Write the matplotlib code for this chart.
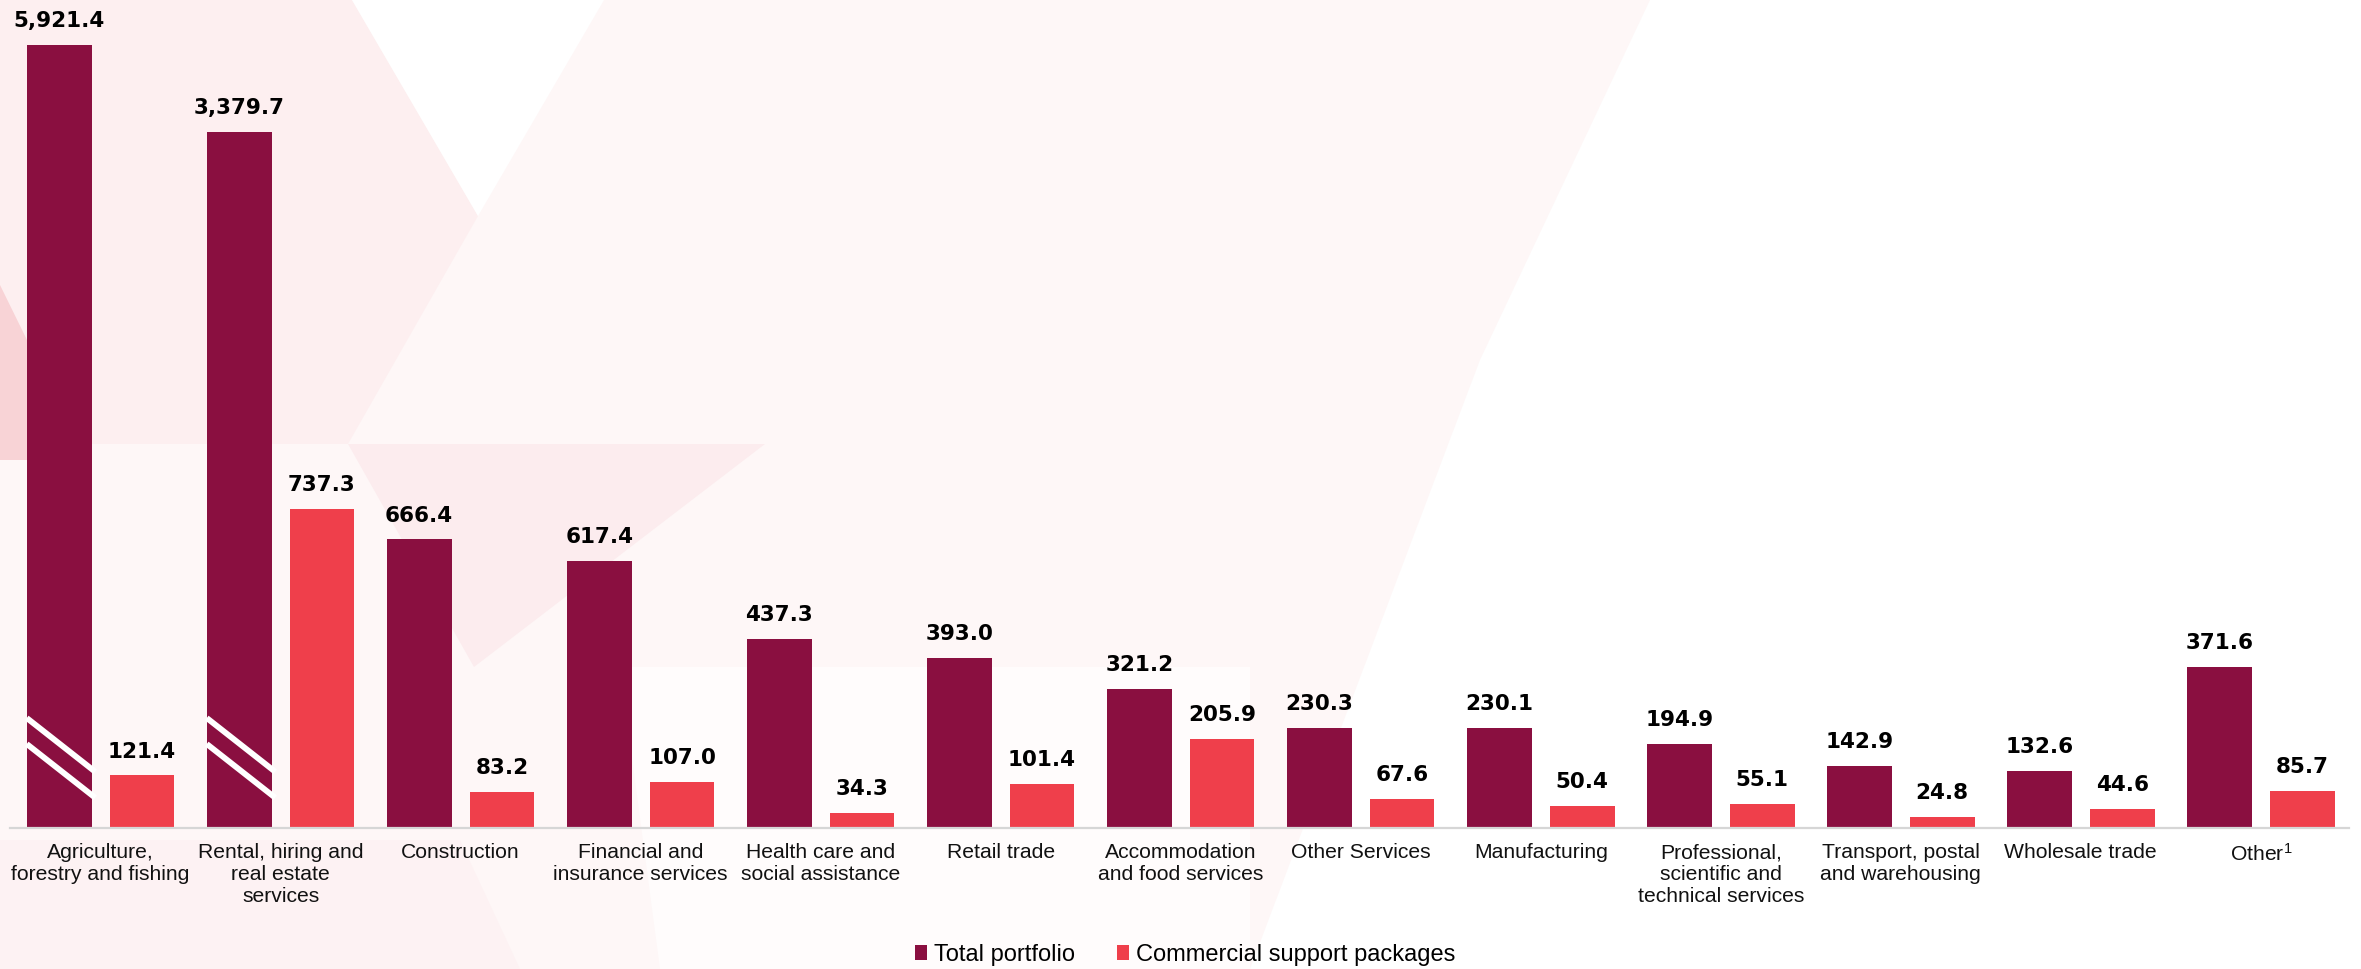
import matplotlib
matplotlib.use("Agg")
import matplotlib.pyplot as plt
from matplotlib.patches import Polygon
import numpy as np

# data (A$ millions)
categories = [
    "Agriculture,\nforestry and fishing",
    "Rental, hiring and\nreal estate\nservices",
    "Construction",
    "Financial and\ninsurance services",
    "Health care and\nsocial assistance",
    "Retail trade",
    "Accommodation\nand food services",
    "Other Services",
    "Manufacturing",
    "Professional,\nscientific and\ntechnical services",
    "Transport, postal\nand warehousing",
    "Wholesale trade",
    "Other$^{1}$",
]
total_portfolio = [5921.4, 3379.7, 666.4, 617.4, 437.3, 393.0, 321.2,
                   230.3, 230.1, 194.9, 142.9, 132.6, 371.6]
commercial_support = [121.4, 737.3, 83.2, 107.0, 34.3, 101.4, 205.9,
                      67.6, 50.4, 55.1, 24.8, 44.6, 85.7]
series_names = ["Total portfolio", "Commercial support packages"]

# the two largest bars are drawn on a broken (truncated) scale
broken_idx = [0, 1]
broken_shown = [1808, 1607]

DARK = "#8a0f40"
RED = "#ef3f4b"

plt.rcParams["font.family"] = ["Liberation Sans", "DejaVu Sans"]
plt.rcParams["mathtext.fontset"] = "custom"
plt.rcParams["mathtext.rm"] = "Liberation Sans"
plt.rcParams["mathtext.it"] = "Liberation Sans"
plt.rcParams["mathtext.bf"] = "Liberation Sans:bold"

W, H = 2361, 969
fig = plt.figure(figsize=(W / 100, H / 100), dpi=100)
fig.patch.set_facecolor("white")

# faint geometric background (pixel coords, y down)
bg = fig.add_axes([0, 0, 1, 1], zorder=-5)
bg.set_xlim(0, W)
bg.set_ylim(H, 0)
bg.axis("off")
shapes = [
    ([(0, 0), (1650, 0), (1480, 360), (1250, 969), (0, 969)], "#fef7f7"),
    ([(0, 0), (352, 0), (478, 216), (348, 444), (0, 444)], "#fdeff0"),
    ([(352, 0), (604, 0), (478, 216)], "#ffffff"),
    ([(348, 444), (765, 444), (474, 667)], "#fcecee"),
    ([(620, 667), (1250, 667), (1250, 969), (660, 969)], "#fffcfc"),
    ([(0, 285), (27, 340), (27, 460), (0, 460)], "#f8d3d6"),
    ([(0, 840), (460, 840), (520, 969), (0, 969)], "#fdf2f3"),
]
for pts, c in shapes:
    bg.add_patch(Polygon(pts, closed=True, facecolor=c, edgecolor="none"))

ax = fig.add_axes([10 / W, 1 - 828 / H, (2349 - 10) / W, 828 / H])
ax.patch.set_alpha(0)

x = np.arange(len(categories))
off = 0.23
bw = 0.36

dark_heights = list(total_portfolio)
for i, h in zip(broken_idx, broken_shown):
    dark_heights[i] = h

ax.bar(x - off, dark_heights, bw, color=DARK, label=series_names[0], zorder=2)
ax.bar(x + off, commercial_support, bw, color=RED, label=series_names[1], zorder=2)

# break marks on the truncated bars
for i in broken_idx:
    x0 = i - off - bw / 2
    x1 = i - off + bw / 2 + 0.02
    for ys, ye in [(254, 130), (194, 70)]:
        ax.plot([x0, x1], [ys, ye], color="white", lw=4.2,
                solid_capstyle="butt", zorder=3)

# value labels
for xi, h, v in zip(x - off, dark_heights, total_portfolio):
    ax.annotate(f"{v:,.1f}", (xi, h), xytext=(0, 10), textcoords="offset points",
                ha="center", va="bottom", fontsize=15.5, fontweight="bold",
                family="DejaVu Sans", color="black")
for xi, v in zip(x + off, commercial_support):
    ax.annotate(f"{v:,.1f}", (xi, v), xytext=(0, 10), textcoords="offset points",
                ha="center", va="bottom", fontsize=15.5, fontweight="bold",
                family="DejaVu Sans", color="black")

ax.set_xlim(-0.503, 12.49)
ax.set_ylim(0, 1912)
ax.set_xticks(x)
ax.set_xticklabels(categories, fontsize=15.2, color="#111111")
ax.tick_params(axis="x", length=0, pad=11)
ax.set_yticks([])
for s in ["top", "right", "left"]:
    ax.spines[s].set_visible(False)
ax.spines["bottom"].set_color("#d6d6d6")
ax.spines["bottom"].set_linewidth(1.6)

fig.legend(loc="center", bbox_to_anchor=(0.502, 0.0145), ncol=2, frameon=False,
           fontsize=17, handlelength=0.5, handleheight=0.6, handletextpad=0.3,
           columnspacing=1.8)

fig.savefig("out.png", dpi=100)
